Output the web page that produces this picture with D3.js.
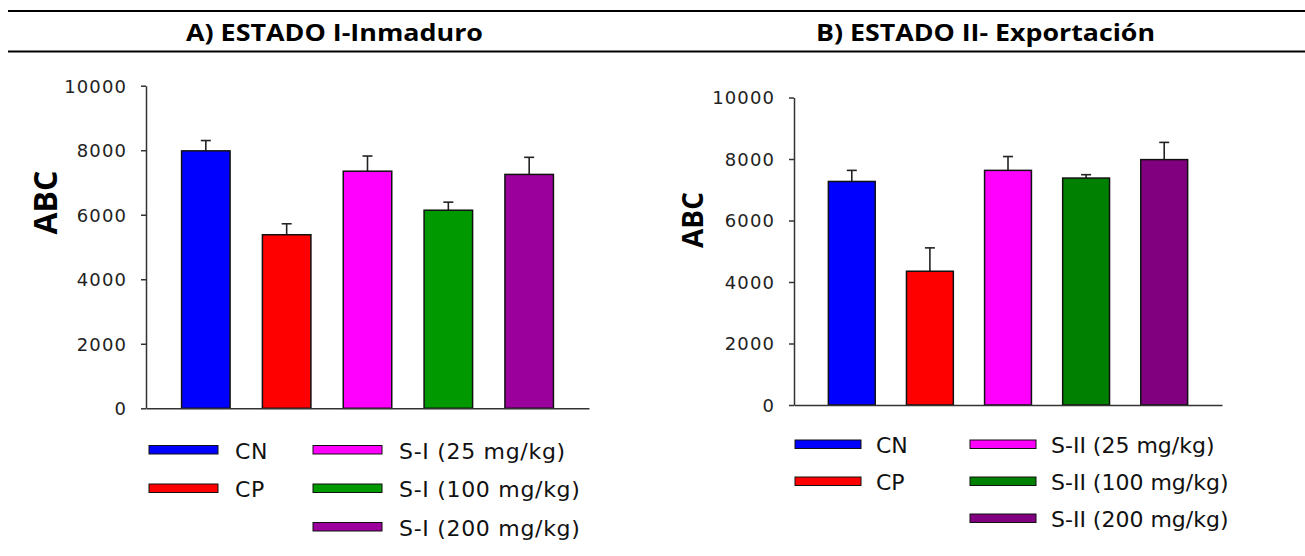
<!doctype html>
<html lang="es">

<head>
    <meta charset="UTF-8" />
    <script src="https://d3js.org/d3.v7.min.js"></script>
    <title>ABC por estado</title>
    <style>
        body { margin: 0; background: #fff; }
    </style>
</head>

<body>
    <div id="chart"></div>
    <script>
        // Data
        const titles = ["A) ESTADO I-Inmaduro", "B) ESTADO II- Exportación"]
        const yLabel = "ABC"
        const yTicks = [0, 2000, 4000, 6000, 8000, 10000]

        const groupsA = ["CN", "CP", "S-I (25 mg/kg)", "S-I (100 mg/kg)", "S-I (200 mg/kg)"]
        const meansA = [7980, 5380, 7350, 6140, 7250]
        const errorsA = [320, 340, 470, 250, 530]
        const colorsA = ["#0000ff", "#ff0000", "#ff00ff", "#009a00", "#9c009c"]

        const groupsB = ["CN", "CP", "S-II (25 mg/kg)", "S-II (100 mg/kg)", "S-II (200 mg/kg)"]
        const meansB = [7270, 4350, 7630, 7380, 7980]
        const errorsB = [360, 760, 450, 110, 560]
        const colorsB = ["#0000ff", "#ff0000", "#ff00ff", "#008000", "#800080"]

        const W = 1305, H = 556

        const svg = d3.select("#chart")
            .append("svg")
            .attr("width", W)
            .attr("height", H)

        // Header rules
        svg.selectAll("line.rule")
            .data([11, 51.5])
            .enter()
            .append("line")
            .attr("class", "rule")
            .attr("x1", 8).attr("x2", W)
            .attr("y1", d => d).attr("y2", d => d)
            .attr("stroke", "#000")
            .attr("stroke-width", 2)

        function drawPanel(cfg) {
            const g = svg.append("g")

            // title
            g.append("text")
                .attr("x", cfg.titleX)
                .attr("y", 40.5)
                .attr("text-anchor", "middle")
                .attr("font-family", "'Open Sans', sans-serif")
                .attr("font-weight", "bold")
                .attr("font-size", "24px")
                .attr("textLength", cfg.titleLen)
                .attr("lengthAdjust", "spacingAndGlyphs")
                .text(cfg.title)

            const x = d3.scaleBand()
                .domain(cfg.groups)
                .range([cfg.x0, cfg.x1])
                .paddingInner(0.4)
                .paddingOuter(0.44)

            const y = d3.scaleLinear()
                .domain([0, 10000])
                .range([cfg.y0, cfg.y1])

            const rows = cfg.groups.map((k, i) => ({ key: k, mean: cfg.means[i], err: cfg.errors[i], color: cfg.colors[i] }))

            // error bars (upper only)
            const eb = g.selectAll("g.err")
                .data(rows)
                .enter()
                .append("g")
                .attr("stroke", "#222")
                .attr("stroke-width", 1.6)

            eb.append("line")
                .attr("x1", d => x(d.key) + x.bandwidth() / 2)
                .attr("x2", d => x(d.key) + x.bandwidth() / 2)
                .attr("y1", d => y(d.mean))
                .attr("y2", d => y(d.mean + d.err))

            eb.append("line")
                .attr("x1", d => x(d.key) + x.bandwidth() / 2 - 5)
                .attr("x2", d => x(d.key) + x.bandwidth() / 2 + 5)
                .attr("y1", d => y(d.mean + d.err))
                .attr("y2", d => y(d.mean + d.err))

            // bars
            g.selectAll("rect.bar")
                .data(rows)
                .enter()
                .append("rect")
                .attr("class", "bar")
                .attr("x", d => x(d.key))
                .attr("y", d => y(d.mean))
                .attr("width", x.bandwidth())
                .attr("height", d => y(0) - y(d.mean))
                .attr("fill", d => d.color)
                .attr("stroke", "#111")
                .attr("stroke-width", 1.5)

            // y axis
            const yAxis = g.append("g")
                .attr("transform", `translate(${cfg.x0}, 0)`)
                .call(d3.axisLeft(y)
                    .tickValues(yTicks)
                    .tickSize(5)
                    .tickSizeOuter(0)
                    .tickPadding(14)
                    .tickFormat(d3.format("d")))

            yAxis.select(".domain").attr("stroke", "#333").attr("stroke-width", 1.5)
            yAxis.selectAll(".tick line").attr("stroke", "#333").attr("stroke-width", 1.5)
            yAxis.selectAll(".tick text")
                .attr("font-family", "'DejaVu Sans', sans-serif")
                .attr("font-size", "18px")
                .attr("letter-spacing", "1.1px")
                .attr("fill", "#222")
                .attr("dy", "0.36em")

            // x axis (baseline only)
            const xAxis = g.append("g")
                .attr("transform", `translate(0, ${cfg.y0})`)
                .call(d3.axisBottom(x).tickValues([]).tickSizeOuter(0))
            xAxis.select(".domain").attr("stroke", "#333").attr("stroke-width", 1.5)

            // y label
            g.append("text")
                .attr("transform", `translate(${cfg.labelX}, ${cfg.labelY}) rotate(-90)`)
                .attr("text-anchor", "middle")
                .attr("dominant-baseline", "central")
                .attr("font-family", "'Open Sans', sans-serif")
                .attr("font-weight", "bold")
                .attr("font-size", cfg.labelSize)
                .text(yLabel)

            // legend: 2 items in first column, 3 in second
            const leg = g.selectAll("g.leg")
                .data(rows)
                .enter()
                .append("g")
                .attr("transform", (d, i) => {
                    const col = i < 2 ? 0 : 1
                    const row = i < 2 ? i : i - 2
                    return `translate(${cfg.legCols[col]}, ${cfg.legY0 + row * cfg.legStep})`
                })

            leg.append("rect")
                .attr("x", 0)
                .attr("y", -5)
                .attr("width", cfg.swatchW)
                .attr("height", 8.5)
                .attr("fill", d => d.color)
                .attr("stroke", "#111")
                .attr("stroke-width", 1)

            leg.append("text")
                .attr("x", cfg.swatchW + cfg.legGap)
                .attr("y", 8)
                .attr("font-family", "'DejaVu Sans', sans-serif")
                .attr("font-size", "22px")
                .attr("letter-spacing", cfg.legSpacing)
                .attr("fill", "#111")
                .text(d => d.key)
        }

        drawPanel({
            title: titles[0], titleX: 334.5, titleLen: 297,
            groups: groupsA, means: meansA, errors: errorsA, colors: colorsA,
            x0: 146, x1: 589, y0: 408.3, y1: 85.7,
            labelX: 44, labelY: 202.5, labelSize: "32px",
            legCols: [149, 313], legY0: 450.5, legStep: 38.5, swatchW: 69, legGap: 17, legSpacing: "0.7px"
        })

        drawPanel({
            title: titles[1], titleX: 985.5, titleLen: 339,
            groups: groupsB, means: meansB, errors: errorsB, colors: colorsB,
            x0: 794, x1: 1222, y0: 405, y1: 97.5,
            labelX: 692, labelY: 220, labelSize: "28px",
            legCols: [795, 970], legY0: 445, legStep: 37, swatchW: 66, legGap: 15, legSpacing: "0px"
        })
    </script>
</body>

</html>
